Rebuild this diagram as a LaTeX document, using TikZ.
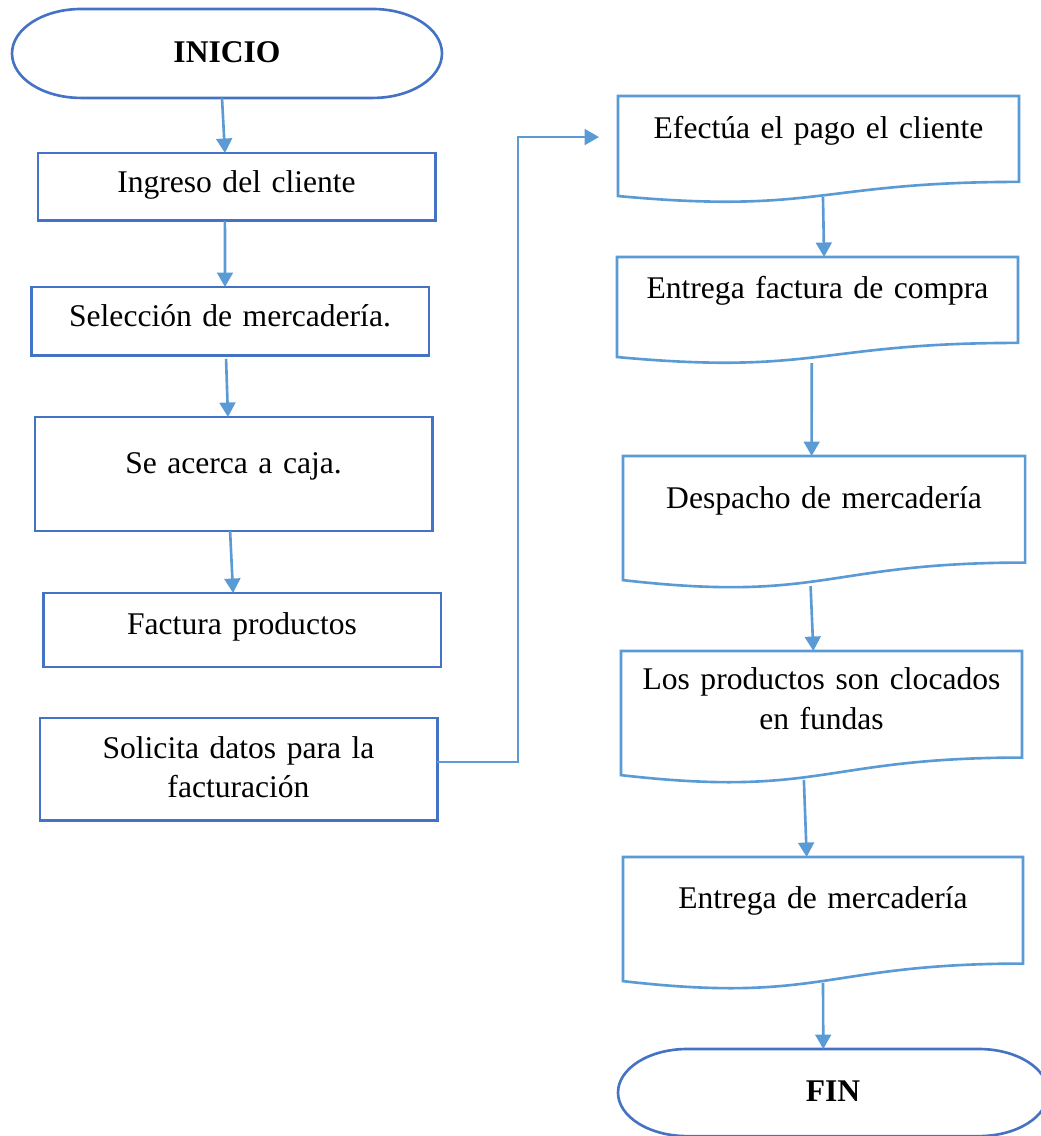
\documentclass[tikz,border=0pt]{standalone}
\usepackage{fontspec}
\setmainfont{Liberation Serif}
\usepackage{tikz}
\usetikzlibrary{arrows.meta, calc}

\definecolor{darkblue}{HTML}{4472C4}
\definecolor{lightblue}{HTML}{5B9BD5}

\begin{document}
\begin{tikzpicture}[
    x=0.38pt, y=-0.38pt,
    base/.style={rectangle, anchor=north, inner ysep=0pt, outer sep=0pt, align=center, font=\fontsize{12pt}{15pt}\selectfont},
    proc/.style={base, draw=darkblue, line width=1.1pt, text width=140pt},
    doc/.style={base, text width=140pt},
    term/.style={base, text width=120pt, font=\fontsize{12pt}{15pt}\selectfont\bfseries},
    docline/.style={draw=lightblue, line width=1pt},
    termline/.style={draw=darkblue, line width=1pt},
    arrow/.style={-{Triangle[width=6pt, length=5.5pt]}, draw=lightblue, line width=1pt}
]
    \useasboundingbox (0,0) rectangle (1040,1136);

    % Left column
    \node[term, minimum width=163.4pt, text height=20.5pt, text depth=13.3pt] (inicio) at (227,9) {INICIO};
    \node[proc, minimum width=150.9pt, text height=15.2pt, text depth=10.6pt] (ingreso) at (236.5,153) {Ingreso del cliente};
    \node[proc, minimum width=151.2pt, text height=15.2pt, text depth=11pt] (seleccion) at (230,287) {Selección de mercadería.};
    \node[proc, minimum width=150.9pt, text height=21.3pt, text depth=22pt] (caja) at (233.5,417) {Se acerca a caja.};
    \node[proc, minimum width=151.2pt, text height=15.6pt, text depth=12.5pt] (factura) at (242,593) {Factura productos};
    \node[proc, minimum width=150.9pt, text height=15.2pt, text depth=23.9pt] (solicita) at (238.5,718) {Solicita datos para la\\facturación};

    % Right column
    \node[doc, minimum width=152.4pt, text height=16.3pt, text depth=24.4pt] (pago) at (818.5,96) {Efectúa el pago el cliente};
    \node[doc, minimum width=152.4pt, text height=15.6pt, text depth=25.1pt] (compra) at (817.5,257) {Entrega factura de compra};
    \node[doc, minimum width=152.8pt, text height=19.8pt, text depth=30.7pt] (despacho) at (824,456) {Despacho de mercadería};
    \node[doc, minimum width=152.4pt, text height=14.8pt, text depth=35.7pt] (fundas) at (821.5,651) {Los productos son clocados\\en fundas};
    \node[doc, minimum width=152pt, text height=19.4pt, text depth=31.1pt] (entrega) at (823,857) {Entrega de mercadería};
    \node[term, minimum width=163.4pt, text height=20.1pt, text depth=13pt] (fin) at (833,1049) {FIN};

    % Outlines
    \foreach \n/\ry in {inicio/16.9pt, fin/16.55pt}
        \draw[termline] ([xshift=26.3pt]\n.north west) -- ([xshift=-26.3pt]\n.north east)
            arc[start angle=90, end angle=-90, x radius=26.3pt, y radius=\ry]
            -- ([xshift=26.3pt]\n.south west)
            arc[start angle=270, end angle=90, x radius=26.3pt, y radius=\ry] -- cycle;
    \foreach \n in {pago,compra,despacho,fundas,entrega}
        \draw[docline] (\n.north west) -- (\n.north east)
            -- ($(\n.north east)!0.802!(\n.south east)$)
            .. controls ($(\n.north)!0.802!(\n.south)$) and ($(\n.north)!1.107!(\n.south)$)
            .. ($(\n.north west)!0.934!(\n.south west)$) -- cycle;

    % Connectors
    \draw[arrow] ([xshift=-1.9pt]inicio.south) -- ([xshift=-4.4pt]ingreso.north);
    \draw[arrow] ([xshift=-4.4pt]ingreso.south) -- ([xshift=-1.9pt]seleccion.north);
    \draw[arrow] ([xshift=-1.5pt, yshift=-1.1pt]seleccion.south) -- ([xshift=-2.1pt]caja.north);
    \draw[arrow] ([xshift=-1.3pt]caja.south) -- ([xshift=-3.4pt]factura.north);
    \draw[arrow] ([yshift=2.9pt]solicita.east) -- ++(81,0) |- ([xshift=-7.2pt, yshift=4.75pt]pago.west);
    \draw[arrow] ([xshift=1.7pt, yshift=2.3pt]pago.south) -- ([xshift=2.5pt]compra.north);
    \draw[arrow] ([xshift=-2.2pt, yshift=0.4pt]compra.south) -- ([xshift=-4.7pt]despacho.north);
    \draw[arrow] ([xshift=-5.1pt, yshift=1.1pt]despacho.south) -- ([xshift=-3.1pt]fundas.north);
    \draw[arrow] ([xshift=-6.7pt, yshift=1.5pt]fundas.south) -- ([xshift=-6.2pt]entrega.north);
    \draw[arrow] ([yshift=2.7pt]entrega.south) -- ([xshift=-3.7pt]fin.north);

\end{tikzpicture}
\end{document}
